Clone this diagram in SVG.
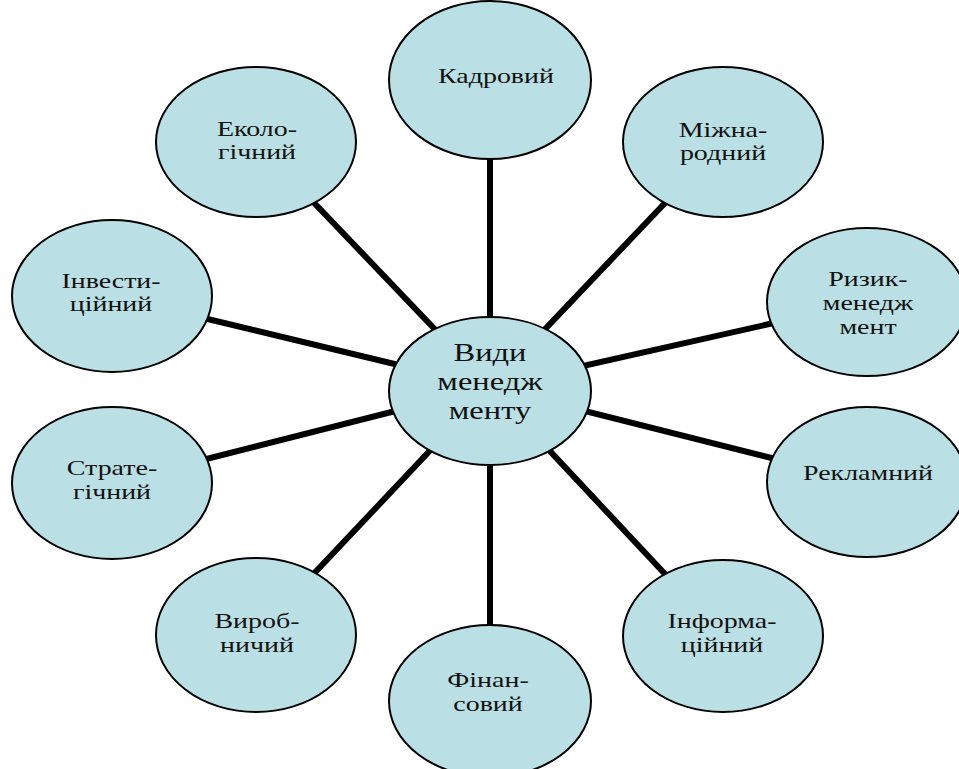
<svg xmlns="http://www.w3.org/2000/svg" width="959" height="769" viewBox="0 0 959 769">
<style>
.n{fill:#BADFE4;stroke:#000;stroke-width:2}
.t{font-family:"Liberation Serif","Times New Roman",serif;font-size:21.5px;fill:#111;text-anchor:middle}
.tc{font-size:25px}
.c line{stroke:#000;stroke-width:6}
</style>
<rect width="959" height="769" fill="#fff"/>
<g class="c" id="connectors">
<line x1="490" y1="387" x2="490" y2="80"/>
<line x1="490" y1="387" x2="723" y2="142"/>
<line x1="490" y1="387" x2="867" y2="302"/>
<line x1="490" y1="387" x2="867" y2="482"/>
<line x1="490" y1="387" x2="723" y2="636"/>
<line x1="490" y1="387" x2="490" y2="701"/>
<line x1="490" y1="387" x2="256" y2="635"/>
<line x1="490" y1="387" x2="112" y2="483"/>
<line x1="490" y1="387" x2="112" y2="296"/>
<line x1="490" y1="387" x2="256" y2="142"/>
</g>
<g id="center">
<ellipse class="n" cx="490" cy="391" rx="101" ry="74"/>
<text class="t tc" transform="translate(490,0) scale(1.3,1)"><tspan x="0" y="361">Види</tspan><tspan x="0" y="390">менедж</tspan><tspan x="0" y="419">менту</tspan></text>
</g>
<g id="kadrovyi">
<ellipse class="n" cx="490" cy="80" rx="101" ry="79"/>
<text class="t" transform="translate(496,0) scale(1.3,1)"><tspan x="0" y="83">Кадровий</tspan></text>
</g>
<g id="mizhnarodnyi">
<ellipse class="n" cx="723" cy="142" rx="100" ry="75"/>
<text class="t" transform="translate(723,0) scale(1.3,1)"><tspan x="0" y="137">Міжна-</tspan><tspan x="0" y="160">родний</tspan></text>
</g>
<g id="ryzyk">
<ellipse class="n" cx="867" cy="302" rx="100" ry="74"/>
<text class="t" transform="translate(868,0) scale(1.3,1)"><tspan x="0" y="286">Ризик-</tspan><tspan x="0" y="310">менедж</tspan><tspan x="0" y="334">мент</tspan></text>
</g>
<g id="reklamnyi">
<ellipse class="n" cx="867" cy="482" rx="100" ry="75"/>
<text class="t" transform="translate(868,0) scale(1.3,1)"><tspan x="0" y="480">Рекламний</tspan></text>
</g>
<g id="informatsiinyi">
<ellipse class="n" cx="723" cy="636" rx="100" ry="76"/>
<text class="t" transform="translate(722,0) scale(1.3,1)"><tspan x="0" y="628">Інформа-</tspan><tspan x="0" y="652">ційний</tspan></text>
</g>
<g id="finansovyi">
<ellipse class="n" cx="490" cy="701" rx="101" ry="76"/>
<text class="t" transform="translate(488,0) scale(1.3,1)"><tspan x="0" y="687">Фінан-</tspan><tspan x="0" y="711">совий</tspan></text>
</g>
<g id="vyrobnychyi">
<ellipse class="n" cx="256" cy="635" rx="100" ry="77"/>
<text class="t" transform="translate(257,0) scale(1.3,1)"><tspan x="0" y="628">Вироб-</tspan><tspan x="0" y="652">ничий</tspan></text>
</g>
<g id="stratehichnyi">
<ellipse class="n" cx="112" cy="483" rx="100" ry="76"/>
<text class="t" transform="translate(112,0) scale(1.3,1)"><tspan x="0" y="475">Страте-</tspan><tspan x="0" y="499">гічний</tspan></text>
</g>
<g id="investytsiinyi">
<ellipse class="n" cx="112" cy="296" rx="100" ry="76"/>
<text class="t" transform="translate(111,0) scale(1.3,1)"><tspan x="0" y="288">Інвести-</tspan><tspan x="0" y="311">ційний</tspan></text>
</g>
<g id="ekolohichnyi">
<ellipse class="n" cx="256" cy="142" rx="100" ry="75"/>
<text class="t" transform="translate(257,0) scale(1.3,1)"><tspan x="0" y="136">Еколо-</tspan><tspan x="0" y="159">гічний</tspan></text>
</g>
</svg>
